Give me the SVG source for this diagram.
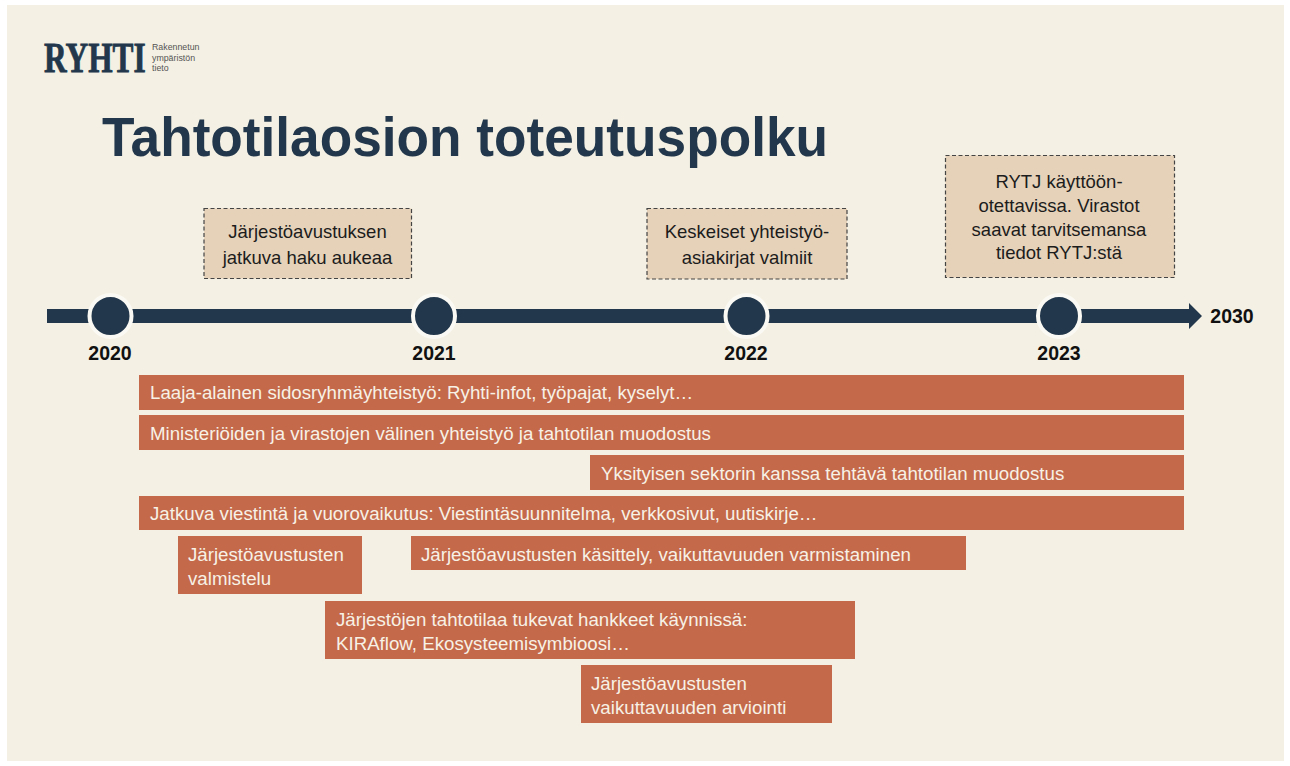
<svg xmlns="http://www.w3.org/2000/svg" width="1290" height="766" viewBox="0 0 1290 766">
<style>
text{font-family:"Liberation Sans",Arial,sans-serif}
.bar{fill:#C4694A}
.bt{fill:#F7F1E6;font-size:18.700px}
.note{fill:#E5D2B9;stroke:#444;stroke-width:1.200;stroke-dasharray:4 2.500}
.nt{fill:#1c1c1c;font-size:18.500px;text-anchor:middle}
.yr{fill:#111;font-size:19.500px;font-weight:bold;text-anchor:middle}
.dot{fill:#22374B;stroke:#FBF9F3;stroke-width:4}
.sub{font-size:8.800px;fill:#555}
</style>
<rect width="1290" height="766" fill="#fff"/>
<rect x="7" y="5" width="1277" height="756" fill="#F4F0E3"/>
<g id="logo">
<text transform="translate(44 72) scale(.73 1)" font-size="43" font-weight="bold" fill="#22374B" stroke="#22374B" stroke-width=".8" style="font-family:'Liberation Serif',serif">RYHTI</text>
<text class="sub" x="152" y="50">Rakennetun</text>
<text class="sub" x="152" y="60.500">ympäristön</text>
<text class="sub" x="152" y="71">tieto</text>
</g>
<text id="title" x="102" y="156" font-size="56" font-weight="bold" fill="#22374B" textLength="726" lengthAdjust="spacingAndGlyphs">Tahtotilaosion toteutuspolku</text>
<g id="connectors">
<path d="M47 309H1189V303L1202 316L1189 329V323H47Z" fill="#22374B"/>
</g>
<g id="y2020"><circle class="dot" cx="110.500" cy="316" r="21"/><text class="yr" x="110" y="360">2020</text></g>
<g id="y2021"><circle class="dot" cx="434" cy="316" r="21"/><text class="yr" x="434" y="360">2021</text></g>
<g id="y2022"><circle class="dot" cx="746.500" cy="316" r="21"/><text class="yr" x="746" y="360">2022</text></g>
<g id="y2023"><circle class="dot" cx="1059" cy="316" r="21"/><text class="yr" x="1059" y="360">2023</text></g>
<g id="y2030"><text class="yr" x="1232" y="323">2030</text></g>
<g id="n1"><rect class="note" x="204" y="208.500" width="207.500" height="70"/><text class="nt" x="307.500" y="238">Järjestöavustuksen</text><text class="nt" x="307.500" y="264">jatkuva haku aukeaa</text></g>
<g id="n2"><rect class="note" x="647" y="208.500" width="200" height="70.500"/><text class="nt" x="747" y="238">Keskeiset yhteistyö-</text><text class="nt" x="747" y="264">asiakirjat valmiit</text></g>
<g id="n3"><rect class="note" x="945.500" y="155.500" width="229" height="122"/><text class="nt" x="1059" y="188">RYTJ käyttöön-</text><text class="nt" x="1059" y="212">otettavissa. Virastot</text><text class="nt" x="1059" y="236">saavat tarvitsemansa</text><text class="nt" x="1059" y="259">tiedot RYTJ:stä</text></g>
<g id="b1"><rect class="bar" x="139" y="375" width="1045" height="35"/><text class="bt" x="150" y="399">Laaja-alainen sidosryhmäyhteistyö: Ryhti-infot, työpajat, kyselyt…</text></g>
<g id="b2"><rect class="bar" x="139" y="415" width="1045" height="35"/><text class="bt" x="150" y="440">Ministeriöiden ja virastojen välinen yhteistyö ja tahtotilan muodostus</text></g>
<g id="b3"><rect class="bar" x="590" y="455" width="594" height="35"/><text class="bt" x="601" y="480">Yksityisen sektorin kanssa tehtävä tahtotilan muodostus</text></g>
<g id="b4"><rect class="bar" x="139" y="496" width="1045" height="34"/><text class="bt" x="150" y="520">Jatkuva viestintä ja vuorovaikutus: Viestintäsuunnitelma, verkkosivut, uutiskirje…</text></g>
<g id="b5"><rect class="bar" x="178" y="536" width="184" height="58"/><text class="bt" x="188" y="561">Järjestöavustusten</text><text class="bt" x="188" y="585">valmistelu</text></g>
<g id="b6"><rect class="bar" x="411" y="536" width="555" height="34"/><text class="bt" x="421" y="561">Järjestöavustusten käsittely, vaikuttavuuden varmistaminen</text></g>
<g id="b7"><rect class="bar" x="325" y="601" width="530" height="58"/><text class="bt" x="336" y="626">Järjestöjen tahtotilaa tukevat hankkeet käynnissä:</text><text class="bt" x="336" y="650">KIRAflow, Ekosysteemisymbioosi…</text></g>
<g id="b8"><rect class="bar" x="581" y="665" width="251" height="58"/><text class="bt" x="591" y="689.500">Järjestöavustusten</text><text class="bt" x="591" y="713.500">vaikuttavuuden arviointi</text></g>
</svg>
